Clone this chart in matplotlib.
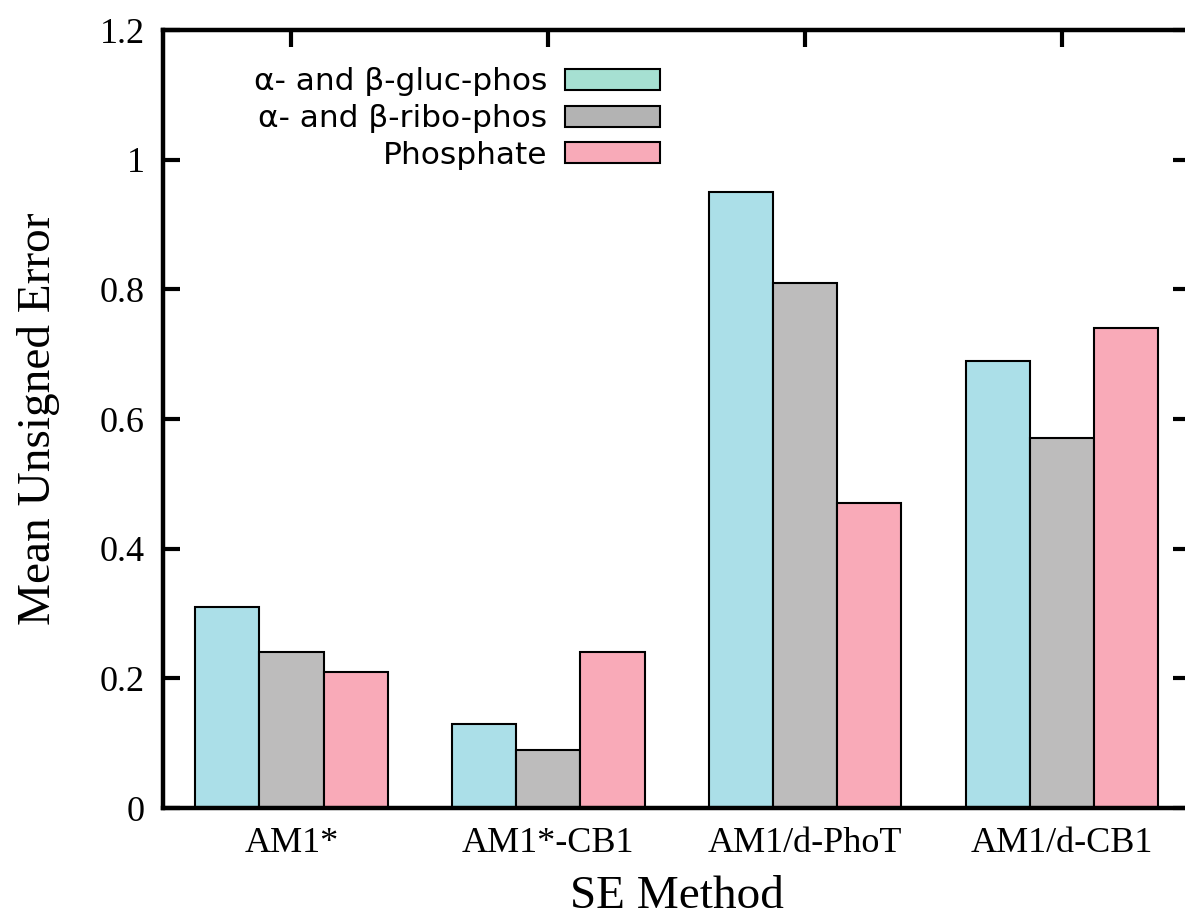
# grouped bar chart of mean unsigned errors per SE method
import numpy as np
import matplotlib
matplotlib.use("Agg")
import matplotlib.pyplot as plt

methods = ["AM1*", "AM1*-CB1", "AM1/d-PhoT", "AM1/d-CB1"]
series = ["α- and β-gluc-phos", "α- and β-ribo-phos", "Phosphate"]
gluc_phos = [0.31, 0.13, 0.95, 0.69]
ribo_phos = [0.24, 0.09, 0.81, 0.57]
phosphate = [0.21, 0.24, 0.47, 0.74]
yticks = [0, 0.2, 0.4, 0.6, 0.8, 1.0, 1.2]
ytick_labels = ["0", "0.2", "0.4", "0.6", "0.8", "1", "1.2"]

colors = ["#abdfe8", "#bdbcbc", "#f9aab8"]
legend_colors = ["#a6e0d2", "#b3b3b3", "#f8aab8"]

fig = plt.figure(figsize=(11.85, 9.18), dpi=100)
ax = fig.add_axes([0.1376, 0.1198, 0.867, 0.8475])

x = np.arange(len(methods))
w = 0.25
for i, (vals, c, name) in enumerate(zip([gluc_phos, ribo_phos, phosphate], colors, series)):
    ax.bar(x + (i - 1) * w, vals, w, color=c, edgecolor="black", linewidth=1.5, label=name, zorder=2)

ax.set_xlim(-0.5, 3.5)
ax.set_ylim(0, 1.2)
ax.set_yticks(yticks)
ax.set_yticklabels(ytick_labels)
ax.set_xticks(x)
ax.set_xticklabels(methods)

serif = "Liberation Serif"
for lab in ax.get_xticklabels() + ax.get_yticklabels():
    lab.set_fontfamily(serif)
    lab.set_fontsize(26)

ax.tick_params(direction="in", length=12, width=3, top=True, right=True)
ax.tick_params(axis="x", pad=14)
ax.tick_params(axis="y", pad=13)
for s in ax.spines.values():
    s.set_linewidth(3.2)
    s.set_zorder(3)

ax.set_ylabel("Mean Unsigned Error", fontfamily=serif, fontsize=34, labelpad=29)
ax.set_xlabel("SE Method", fontfamily=serif, fontsize=34, labelpad=11)

leg = ax.legend(loc="upper right", bbox_to_anchor=(0.5016, 0.976), frameon=False,
                markerfirst=False, fontsize=22.5, handlelength=3.04, handleheight=0.66,
                labelspacing=0.245, handletextpad=0.55, borderaxespad=0.2)
for patch, lc in zip(leg.get_patches(), legend_colors):
    patch.set_facecolor(lc)
    patch.set_linewidth(1.5)

fig.savefig("out.png", dpi=100)
